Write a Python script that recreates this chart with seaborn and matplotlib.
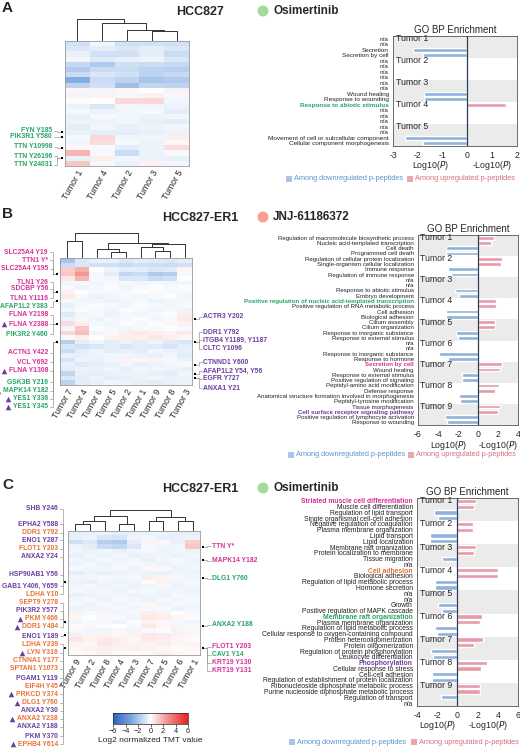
import numpy as np
import pandas as pd
import matplotlib
matplotlib.use('Agg')
import matplotlib.pyplot as plt
from matplotlib import font_manager
from matplotlib.colors import LinearSegmentedColormap
from matplotlib.patches import Circle
import seaborn as sns

W, H = 520, 749

# ---------------- heatmap data (log2 normalized TMT) ----------------
tumors_a = ['Tumor 1', 'Tumor 4', 'Tumor 2', 'Tumor 3', 'Tumor 5']
heat_a = [
    [-1.0, -0.3, -1.0, -1.0, -1.0],
    [-0.8, -0.6, -0.8, -0.6, -0.8],
    [-0.5, -1.0, -1.0, -0.6, -1.2],
    [-0.3, -0.7, -0.5, -0.4, -0.8],
    [-1.3, -1.8, -1.0, -1.2, -1.3],
    [-1.8, -1.2, -1.2, -1.5, -1.6],
    [-1.2, -0.8, -1.0, -1.5, -1.3],
    [-2.8, -1.2, -1.5, -2.0, -1.8],
    [-1.5, -1.0, -2.2, -1.4, -1.5],
    [0.2, -0.3, 0.2, 0.0, 0.3],
    [-0.3, 0.3, -0.2, 0.3, -0.2],
    [0.1, 0.0, 0.9, 0.9, -0.3],
    [-0.4, -0.8, -0.3, -0.3, -0.4],
    [-0.2, -0.4, -0.3, -0.2, -0.6],
    [-0.5, -0.2, -0.3, -0.4, -0.3],
    [-0.4, -0.4, -0.3, -0.5, -0.6],
    [-0.6, -0.3, -0.5, -0.4, -0.3],
    [-0.5, -0.6, -0.6, -0.5, -0.4],
    [-0.2, 0.9, -0.3, -0.3, 0.4],
    [-0.3, 0.8, -0.2, -0.4, 0.2],
    [0.2, -0.2, -0.6, -0.4, 0.8],
    [1.8, -0.2, -1.2, -0.4, -0.2],
    [-0.5, 0.4, -0.3, -0.4, -0.5],
    [1.4, -0.2, -0.5, 0.3, -0.3],
]
# dendrogram merges: (node a, node b, height)
dendro_a = [(3, 4, 27), (2, 5, 30), (1, 6, 49), (0, 7, 62)]

tumors_b = ['Tumor 7', 'Tumor 4', 'Tumor 6', 'Tumor 5', 'Tumor 2', 'Tumor 1', 'Tumor 9', 'Tumor 8', 'Tumor 3']
heat_b = [
    [-2.0, -0.8, -0.5, -0.5, -0.8, -0.6, -0.7, -0.8, -0.6],
    [-1.2, -0.8, -1.0, -1.0, -1.2, -1.0, -1.1, -1.2, -1.0],
    [1.2, 2.0, 0.0, -0.4, -0.6, -0.6, -0.8, -0.7, 0.2],
    [1.4, 2.6, -0.2, -0.6, -1.4, -1.2, -1.8, -1.6, -0.2],
    [0.6, 1.8, -0.2, -0.3, -0.8, -0.8, -1.2, -1.0, 0.0],
    [-0.3, -0.2, -0.3, -0.2, -0.2, -0.3, -0.2, -0.3, -0.3],
    [-0.2, -0.4, -0.2, -0.1, -0.3, -0.2, -0.1, -0.2, -0.1],
    [0.3, 0.0, -0.2, -0.2, -0.2, -0.1, 0.1, -0.2, -0.2],
    [0.5, -0.2, -0.4, -0.3, -0.2, -0.3, -0.2, -0.1, -0.3],
    [-0.2, -0.3, -0.3, -0.4, -0.3, -0.2, -0.4, -0.3, -0.2],
    [-0.5, -0.2, -0.1, -0.2, -0.3, -0.1, -0.2, -0.3, -0.2],
    [-0.3, 0.1, -0.2, -0.3, -0.1, -0.2, -0.3, -0.2, -0.4],
    [-0.7, -0.3, -0.2, -0.4, -0.2, -0.3, -0.2, -0.1, 0.4],
    [-0.4, -0.2, -0.4, -0.2, -0.2, -0.1, -0.3, -0.2, 0.6],
    [0.8, 0.4, -0.2, -0.3, -0.1, -0.2, -0.1, 0.2, 0.3],
    [-0.3, 1.4, -0.1, -0.2, -0.3, -0.2, -0.2, -0.1, -0.2],
    [0.9, 1.6, -0.3, 0.2, 0.4, 0.5, 0.4, 0.3, 0.5],
    [0.2, 0.4, 0.0, 0.3, 0.4, 0.4, 0.6, 0.4, 0.2],
    [-1.6, -0.6, -0.3, -0.6, -0.4, -0.6, -0.4, -0.7, -0.8],
    [-0.8, -1.0, -0.8, -0.6, -0.8, -0.6, -0.7, -0.9, -0.6],
    [-1.2, -0.6, -0.4, -0.6, -0.5, -0.6, -0.3, -0.4, -0.5],
    [-0.5, -0.5, -0.4, -0.3, -0.3, -0.4, -0.5, -0.3, -0.6],
    [-0.9, -0.4, -0.5, -0.3, 0.3, 0.2, 0.3, -0.2, -0.4],
    [-0.5, -0.7, -0.6, -0.5, -0.3, -0.5, -0.4, -0.3, -0.2],
    [-0.6, -0.4, -0.5, -0.3, -0.5, -0.3, -0.3, -0.4, -0.5],
    [-1.4, -0.5, -0.6, -0.5, -0.4, -0.4, -0.5, -0.6, -0.3],
    [-0.8, -0.6, -0.4, -0.6, -0.5, -0.4, -0.3, -0.5, -0.4],
    [-1.5, -0.6, -0.5, -0.3, -0.4, -0.5, -0.6, -0.5, -0.4],
]
dendro_b = [(3, 4, 14), (6, 7, 17), (2, 9, 22), (5, 10, 27), (12, 8, 34),
            (11, 13, 37), (0, 1, 42), (15, 14, 62)]

tumors_c = ['Tumor 9', 'Tumor 2', 'Tumor 8', 'Tumor 4', 'Tumor 3', 'Tumor 7', 'Tumor 5', 'Tumor 6', 'Tumor 1']
heat_c = [
    [-0.6, -0.5, -0.4, -0.6, -0.5, -0.4, -0.4, -0.5, -0.6],
    [-0.5, -0.4, -0.8, -0.9, -0.4, -0.3, -0.5, -0.5, -0.4],
    [-1.0, -0.8, -1.6, -1.8, -0.6, 0.3, -0.2, -0.5, 1.2],
    [-0.4, -0.6, -1.2, -1.4, -0.8, -0.2, -0.3, -0.3, 1.4],
    [-0.3, -0.4, -0.3, -0.5, -0.3, -0.2, -0.4, -0.3, -0.4],
    [-0.5, -0.3, -0.4, -0.3, -0.5, -0.4, -0.3, -0.4, -0.3],
    [-0.3, -0.4, -0.2, -0.4, -0.3, -0.5, -0.3, -0.2, -0.4],
    [-0.4, -0.2, -0.4, -0.3, -0.2, -0.3, -0.4, -0.3, -0.3],
    [-0.2, -0.3, -0.3, -0.2, -0.4, 0.2, -0.2, -0.4, -0.3],
    [-0.6, -0.4, -0.5, -0.4, -0.3, -0.4, -0.5, -0.3, -0.4],
    [-0.3, -0.3, -0.2, -0.3, -0.2, 0.4, 0.3, -0.2, -0.3],
    [-0.4, -0.5, -0.3, -0.4, -0.3, 0.1, 0.3, -0.3, -0.2],
    [-0.3, -0.2, -0.4, -0.3, -0.4, -0.3, -0.2, -0.4, -0.3],
    [-0.2, -0.3, -0.3, -0.4, -0.2, -0.2, -0.3, -0.3, -0.4],
    [-0.5, -0.4, -0.3, -0.3, -0.4, -0.3, -0.4, -0.2, -0.3],
    [-0.3, -0.2, -0.4, -0.2, -0.3, -0.4, -0.2, -0.3, -0.2],
    [-0.2, -0.4, -0.2, -0.3, -0.2, 0.2, -0.3, -0.2, -0.3],
    [-0.4, -0.3, -0.3, -0.2, -0.3, -0.2, -0.2, -0.4, -0.3],
    [0.3, -0.2, 0.2, -0.3, -0.2, 0.4, 0.3, 0.0, -0.2],
    [0.2, 0.0, -0.2, -0.2, -0.3, 0.6, 0.4, 0.2, -0.1],
    [-0.3, -0.2, -0.2, -0.4, -0.1, 0.3, 0.2, -0.2, -0.3],
    [0.1, 0.2, -0.1, 0.0, -0.2, 0.5, 0.2, 0.3, -0.2],
    [-0.2, -0.3, -0.3, -0.2, -0.3, -0.2, -0.1, -0.3, -0.2],
    [0.4, 0.3, 0.3, 0.2, 0.3, 0.6, 0.5, 0.3, 0.2],
    [0.6, 0.3, 0.5, 0.4, 0.2, 0.5, 0.4, 0.2, 0.1],
    [0.3, 0.2, 0.6, 0.4, 0.3, 0.3, 0.4, 0.2, 0.3],
    [0.2, 0.3, 0.4, 0.3, 0.4, 0.3, 0.2, 0.1, 0.2],
    [0.1, 0.2, 0.3, 0.2, 0.1, 0.2, 0.3, 0.2, 0.1],
]
dendro_c = [(0, 1, 20), (9, 2, 27), (3, 4, 20), (10, 11, 42), (5, 6, 27),
            (7, 8, 27), (13, 14, 40), (12, 15, 60)]

# ---------------- GO BP enrichment data ----------------
go_terms_a = ['n/a', 'n/a', 'Secretion', 'Secretion by cell',
              'n/a', 'n/a', 'n/a', 'n/a',
              'n/a', 'n/a', 'Wound healing', 'Response to wounding',
              'Response to abiotic stimulus', 'n/a', 'n/a', 'n/a',
              'n/a', 'n/a', 'Movement of cell or subcellular component', 'Cellular component morphogenesis']
go_vals_a = [0, 0, -2.2, -1.8,
             0, 0, 0, 0,
             0, 0, -1.75, -1.75,
             1.55, 0, 0, 0,
             0, 0, -2.5, -1.8]

go_terms_b = ['Regulation of macromolecule biosynthetic process', 'Nucleic acid-templated transcription',
              'Cell death', 'Programmed cell death',
              'Regulation of cellular protein localization', 'Single-organism cellular localization',
              'Immune response', 'Regulation of immune response',
              'n/a', 'n/a', 'Response to abiotic stimulus', 'Embryo development',
              'Positive regulation of nucleic acid-templated transcription', 'Positive regulation of RNA metabolic process',
              'Cell adhesion', 'Biological adhesion',
              'Cilium assembly', 'Cilium organization', 'Response to inorganic substance', 'Response to external stimulus',
              'n/a', 'n/a', 'Response to inorganic substance', 'Response to hormone',
              'Secretion by cell', 'Wound healing', 'Response to external stimulus', 'Positive regulation of signaling',
              'Peptidyl-amino acid modification', 'Defense response',
              'Anatomical structure formation involved in morphogenesis', 'Peptidyl-tyrosine modification',
              'Tissue morphogenesis', 'Cell surface receptor signaling pathway',
              'Positive regulation of lymphocyte activation', 'Response to wounding']
go_vals_b = [1.6, 1.3, -3.2, -3.2,
             2.4, 2.3, -3.0, -2.7,
             0, 0, -2.3, -1.9,
             1.8, 1.8, -3.2, -3.2,
             1.7, 1.7, -2.2, -2.0,
             0, 0, -3.9, -3.0,
             2.4, 2.2, -1.6, -1.6,
             2.1, 1.7, -1.9, -1.8,
             2.2, 2.0, -3.3, -3.1]

go_terms_c = ['Striated muscle cell differentiation', 'Muscle cell differentiation',
              'Regulation of lipid transport', 'Single organismal cell-cell adhesion',
              'Negative regulation of coagulation', 'Plasma membrane organization',
              'Lipid transport', 'Lipid localization',
              'Membrane raft organization', 'Protein localization to membrane', 'Tissue migration', 'n/a',
              'Cell adhesion', 'Biological adhesion', 'Regulation of lipid metabolic process', 'Hormone secretion',
              'n/a', 'n/a', 'Growth', 'Positive regulation of MAPK cascade',
              'Membrane raft organization', 'Plasma membrane organization',
              'Regulation of lipid metabolic process', 'Cellular response to oxygen-containing compound',
              'Protein heterooligomerization', 'Protein oligomerization',
              'Regulation of protein phosphorylation', 'Leukocyte differentiation',
              'Phosphorylation', 'Cellular response to stress',
              'Cell-cell adhesion', 'Regulation of establishment of protein localization',
              'Ribonucleoside diphosphate metabolic process', 'Purine nucleoside diphosphate metabolic process',
              'Regulation of transport', 'n/a']
go_vals_c = [1.8, 1.6, -2.3, -1.9,
             1.5, 1.5, -2.7, -2.7,
             1.8, 1.6, -1.5, 0,
             4.0, 4.0, -2.2, -2.2,
             0, 0, -1.9, -1.5,
             2.4, 2.2, -2.2, -2.0,
             2.5, 1.6, -2.6, -2.4,
             2.9, 2.3, -2.5, -2.5,
             2.2, 2.2, -1.6, 0]

# ---------------- colours ----------------
MAG, GRN, PUR, ORG = '#d8309a', '#25a566', '#6b3f9e', '#ea7236'
BLUE_BAR, PINK_BAR = '#8fb2dc', '#e69aaa'
go_highlight_a = {12: GRN}
go_highlight_b = {12: GRN, 24: MAG, 33: PUR}
go_highlight_c = {0: MAG, 12: ORG, 20: GRN, 28: PUR}

# ---------------- peptide labels ----------------
lab_a = ['FYN Y185', 'PIK3R1 Y580', 'TTN Y10998', 'TTN Y26196', 'TTN Y24031']
lab_a_y = [131, 137, 147, 156, 165]
lab_a_row = [17, 18, 20, 22, 22]
lab_a_col = [GRN] * 5
lab_a_tri = [None] * 5

lab_b = ['SLC25A4 Y19', 'TTN1 Y*', 'SLC25A4 Y195', 'TLN1 Y26', 'SDCBP Y56', 'TLN1 Y1116',
         'AFAP1L2 Y383', 'FLNA Y2198', 'FLNA Y2388', 'PIK3R2 Y460', 'ACTN1 Y422', 'VCL Y692',
         'FLNA Y1308', 'GSK3B Y216', 'MAPK14 Y182', 'YES1 Y336', 'YES1 Y345']
lab_b_y = [252, 260, 269, 282, 289, 298, 307, 315, 324, 334, 353, 362, 371, 382, 391, 399, 407]
lab_b_row = [3, 3, 3, 7, 7, 7, 9, 14, 14, 14, 18, 18, 18, 18, 18, 18, 18]
lab_b_col = [MAG, MAG, MAG, MAG, MAG, MAG, GRN, MAG, MAG, GRN, MAG, MAG, MAG, GRN, GRN, GRN, GRN]
lab_b_tri = [None] * 8 + [PUR, None, None, None, PUR, None, MAG, PUR, PUR]

lab_b_r = ['ACTR3 Y202', 'DDR1 Y792', 'ITGB4 Y1189, Y1187', 'CLTC Y1096', 'CTNND1 Y600',
           'AFAP1L2 Y54, Y56', 'EGFR Y727', 'ANXA1 Y21']
lab_b_r_y = [317, 332, 340, 349, 362, 371, 379, 388]
lab_b_r_row = [13, 18, 18, 18, 23, 25, 26, 26]
lab_b_r_col = [PUR] * 8

lab_c = ['SHB Y246', 'EPHA2 Y588', 'DDR1 Y792', 'ENO1 Y287', 'FLOT1 Y203', 'ANXA2 Y24', 'HSP90AB1 Y56',
         'GAB1 Y406, Y659', 'LDHA Y10', 'SEPT9 Y278', 'PIK3R2 Y577', 'PKM Y466', 'DDR1 Y484', 'ENO1 Y189',
         'LDHA Y239', 'LYN Y316', 'CTNNA1 Y177', 'SPTAN1 Y1073', 'PGAM1 Y119', 'EIF4H Y45', 'PRKCD Y374',
         'DLG1 Y760', 'ANXA2 Y30', 'ANXA2 Y238', 'ANXA2 Y188', 'PKM Y370', 'EPHB4 Y614']
lab_c_y = [509, 524, 533, 540, 549, 557, 575, 586, 594, 603, 611, 619, 627, 636, 644, 653, 661, 669,
           678, 686, 694, 703, 711, 719, 727, 736, 744]
lab_c_row = [11] * 9 + [20] * 4 + [23] + [26] * 13
lab_c_col = [PUR, PUR, ORG, PUR, ORG, PUR, PUR, PUR, ORG, ORG, PUR, ORG, ORG, PUR, ORG, ORG, ORG, ORG,
             PUR, ORG, ORG, ORG, PUR, ORG, PUR, PUR, ORG]
lab_c_tri = [None] * 11 + [PUR, PUR, None, None, PUR, None, None, None, None, PUR, PUR, None, PUR,
                           None, None, PUR]

lab_c_r = ['TTN Y*', 'MAPK14 Y182', 'DLG1 Y760', 'ANXA2 Y188', 'FLOT1 Y203', 'CAV1 Y14', 'KRT19 Y130', 'KRT19 Y131']
lab_c_r_y = [546, 561, 579, 625, 647, 655, 663, 671]
lab_c_r_row = [3, 6, 10, 21, 26, 26, 26, 26]
lab_c_r_col = [MAG, MAG, GRN, GRN, MAG, GRN, MAG, MAG]

# ---------------- style ----------------
sns.set_style('white')
plt.rcParams['font.family'] = ['Liberation Sans', 'DejaVu Sans']
names = {f.name for f in font_manager.fontManager.ttflist}
NARROW = 'Liberation Sans Narrow' if 'Liberation Sans Narrow' in names else 'Liberation Sans'

cmap = LinearSegmentedColormap.from_list('tmt', [
    (0.0, '#2a64c0'), (0.25, '#7ea7e0'), (0.42, '#d3e3f6'), (0.5, '#ffffff'),
    (0.58, '#fad6d6'), (0.75, '#f08884'), (1.0, '#e3221f')])

fig = plt.figure(figsize=(W / 100, H / 100), dpi=100)


def px_axes(x0, y0, x1, y1):
    return fig.add_axes([x0 / W, 1 - y1 / H, (x1 - x0) / W, (y1 - y0) / H])


def draw_dendro(ax, n, merges):
    xs = [i + 0.5 for i in range(n)]
    hs = [0] * n
    for a, b, h in merges:
        ax.plot([xs[a], xs[a], xs[b], xs[b]], [hs[a], h, h, hs[b]], color='#333333', lw=0.7)
        xs.append((xs[a] + xs[b]) / 2)
        hs.append(h)
    ax.set_xlim(0, n)
    ax.set_ylim(0, max(hs) * 1.03)
    ax.axis('off')


def draw_heat(ax, data, cols):
    sns.heatmap(np.array(data), ax=ax, cmap=cmap, vmin=-6, vmax=6, cbar=False,
                xticklabels=cols, yticklabels=False)
    ax.set_xticklabels(cols, rotation=60, ha='right', va='top', rotation_mode='anchor', fontsize=6.3)
    ax.tick_params(axis='x', length=0, pad=2)
    for s in ax.spines.values():
        s.set_visible(True)
        s.set_color('#9a9a9a')
        s.set_linewidth(0.6)


def draw_go(ax, terms, vals, xlim, xticks, highlight, fs):
    n = len(terms)
    df = pd.DataFrame({'row': [str(i) for i in range(n)], 'value': vals,
                       'direction': ['up' if v > 0 else 'down' for v in vals]})
    sns.barplot(data=df, x='value', y='row', hue='direction', order=list(df['row']),
                hue_order=['down', 'up'], palette={'down': BLUE_BAR, 'up': PINK_BAR},
                orient='h', dodge=False, width=0.72, saturation=1, legend=False, ax=ax)
    for g in range(0, n // 4, 2):
        ax.axhspan(4 * g - 0.5, 4 * g + 3.5, color='#ebebeb', lw=0, zorder=0)
    ax.axvline(0, color='#2d3b55', lw=0.9, zorder=3)
    ax.set_xlim(*xlim)
    ax.set_ylim(n - 0.5, -0.5)
    ax.set_xticks(xticks)
    ax.set_xticklabels([str(t) for t in xticks], fontsize=6.3)
    ax.set_yticks(range(n))
    ax.set_yticklabels(terms, fontsize=fs, family=NARROW)
    for i, t in enumerate(ax.get_yticklabels()):
        if i in highlight:
            t.set_color(highlight[i])
            t.set_fontweight('bold')
        else:
            t.set_color('#222222')
    ax.tick_params(axis='y', length=2, width=0.5, pad=1)
    ax.tick_params(axis='x', length=2, width=0.5, pad=1.5)
    ax.set_xlabel('')
    ax.set_ylabel('')
    for s in ax.spines.values():
        s.set_visible(True)
        s.set_color('#555555')
        s.set_linewidth(0.6)
    for g in range(n // 4):
        ax.text(xlim[0] + 0.025 * (xlim[1] - xlim[0]), 4 * g, f'Tumor {g + 1}',
                fontsize=6.3, va='center', ha='left', zorder=4)
    ax.set_title('GO BP Enrichment', fontsize=7, pad=2)


# ---------------- panel A ----------------
hm_a = (65, 41, 189, 166)
draw_dendro(px_axes(65, 18, 189, 41), 5, dendro_a)
draw_heat(px_axes(*hm_a), heat_a, tumors_a)
go_a = (393, 36, 517, 146)
draw_go(px_axes(*go_a), go_terms_a, go_vals_a, (-3, 2), [-3, -2, -1, 0, 1, 2], go_highlight_a, 4.6)

# ---------------- panel B ----------------
hm_b = (60, 258, 192, 385)
draw_dendro(px_axes(60, 232, 192, 258), 9, dendro_b)
draw_heat(px_axes(*hm_b), heat_b, tumors_b)
go_b = (418, 235, 518, 425)
draw_go(px_axes(*go_b), go_terms_b, go_vals_b, (-6, 4), [-6, -4, -2, 0, 2, 4], go_highlight_b, 4.4)

# ---------------- panel C ----------------
hm_c = (68, 531, 200, 655)
draw_dendro(px_axes(68, 509, 200, 531), 9, dendro_c)
ax_hc = px_axes(*hm_c)
draw_heat(ax_hc, heat_c, tumors_c)
go_c = (417, 498, 518, 706)
draw_go(px_axes(*go_c), go_terms_c, go_vals_c, (-4, 6), [-4, -2, 0, 2, 4, 6], go_highlight_c, 4.9)

cax = px_axes(113, 713, 188, 724)
cb = fig.colorbar(ax_hc.collections[0], cax=cax, orientation='horizontal')
cb.set_ticks([-6, -4, -2, 0, 2, 4, 6])
cb.ax.tick_params(labelsize=5.3, length=2, width=0.5, pad=1)
cb.outline.set_linewidth(0.5)

# ---------------- overlay (pixel coordinates) ----------------
ov = fig.add_axes([0, 0, 1, 1])
ov.set_xlim(0, W)
ov.set_ylim(H, 0)
ov.axis('off')

ov.text(150, 740, 'Log2 normalized TMT value', fontsize=6, ha='center', va='center')

headers = [('A', 8, 'HCC827', 'Osimertinib', '#a6d99c'),
           ('B', 214, 'HCC827-ER1', 'JNJ-61186372', '#f6a28c'),
           ('C', 485, 'HCC827-ER1', 'Osimertinib', '#a6d99c')]
for letter, y, cell, drug, dot in headers:
    ov.text(2, y, letter, fontsize=11, fontweight='bold', va='center', ha='left')
    ov.text(200, y + 4, cell, fontsize=9, fontweight='bold', va='center', ha='center')
    ov.add_patch(Circle((263, y + 3), 5.5, color=dot, lw=0))
    ov.text(273, y + 3, drug, fontsize=8.5, fontweight='bold', va='center', ha='left')


def go_xlabels(box, xlim, y):
    x0, _, x1, _ = box
    to_px = lambda v: x0 + (v - xlim[0]) / (xlim[1] - xlim[0]) * (x1 - x0)
    ov.text(to_px(xlim[0] / 2), y, 'Log10($\\it{P}$)', fontsize=6.3, ha='center', va='center')
    ov.text(to_px(xlim[1] / 2), y, '-Log10($\\it{P}$)', fontsize=6.3, ha='center', va='center')


go_xlabels(go_a, (-3, 2), 165)
go_xlabels(go_b, (-6, 4), 445)
go_xlabels(go_c, (-4, 6), 725)


def go_legend(x_blue, x_pink, y):
    ov.scatter([x_blue, x_pink], [y, y], marker='s', s=14, c=['#a9c6e8', '#eca6b2'], lw=0)
    ov.text(x_blue + 5, y, 'Among downregulated p-peptides', fontsize=5.3, color='#5d93cc', va='center')
    ov.text(x_pink + 5, y, 'Among upregulated p-peptides', fontsize=5.3, color='#d4707f', va='center')


go_legend(289, 410, 179)
go_legend(291, 411, 455)
go_legend(292, 414, 742)

texts = []


def side_labels(labels, ys, rows, cols, box, side, xt, xb, tris=None):
    x0, y0, x1, y1 = box
    nrow = {hm_a: 24, hm_b: 28, hm_c: 28}[box]
    pitch = (y1 - y0) / nrow
    edge = x0 if side == 'left' else x1
    mark = edge - 3 if side == 'left' else edge + 3
    for i, (lab, y, r, c) in enumerate(zip(labels, ys, rows, cols)):
        ry = y0 + (r + 0.5) * pitch
        t = ov.text(xt, y, lab, fontsize=4.9, fontweight='bold', family=NARROW, color=c,
                    ha='right' if side == 'left' else 'left', va='center')
        tx = xt + 1.5 if side == 'left' else xt - 1.5
        ov.plot([tx, xb, xb, mark], [y, y, ry, ry], color='#9a9a9a', lw=0.5)
        ov.scatter([mark], [ry], marker='s', s=3, c='black', lw=0, zorder=5)
        if tris is not None and tris[i] is not None:
            texts.append((t, tris[i], y))


side_labels(lab_a, lab_a_y, lab_a_row, lab_a_col, hm_a, 'left', 52, 57, lab_a_tri)
side_labels(lab_b, lab_b_y, lab_b_row, lab_b_col, hm_b, 'left', 48, 53, lab_b_tri)
side_labels(lab_b_r, lab_b_r_y, lab_b_r_row, lab_b_r_col, hm_b, 'right', 203, 199)
side_labels(lab_c, lab_c_y, lab_c_row, lab_c_col, hm_c, 'left', 58, 63, lab_c_tri)
side_labels(lab_c_r, lab_c_r_y, lab_c_r_row, lab_c_r_col, hm_c, 'right', 212, 207)

# triangles just left of the marked labels
fig.canvas.draw()
renderer = fig.canvas.get_renderer()
inv = ov.transData.inverted()
for t, c, y in texts:
    bb = t.get_window_extent(renderer)
    left = inv.transform((bb.x0, bb.y0))[0]
    ov.scatter([left - 5], [y], marker='^', s=16, c=c, lw=0)

fig.savefig('out.png', dpi=100)
